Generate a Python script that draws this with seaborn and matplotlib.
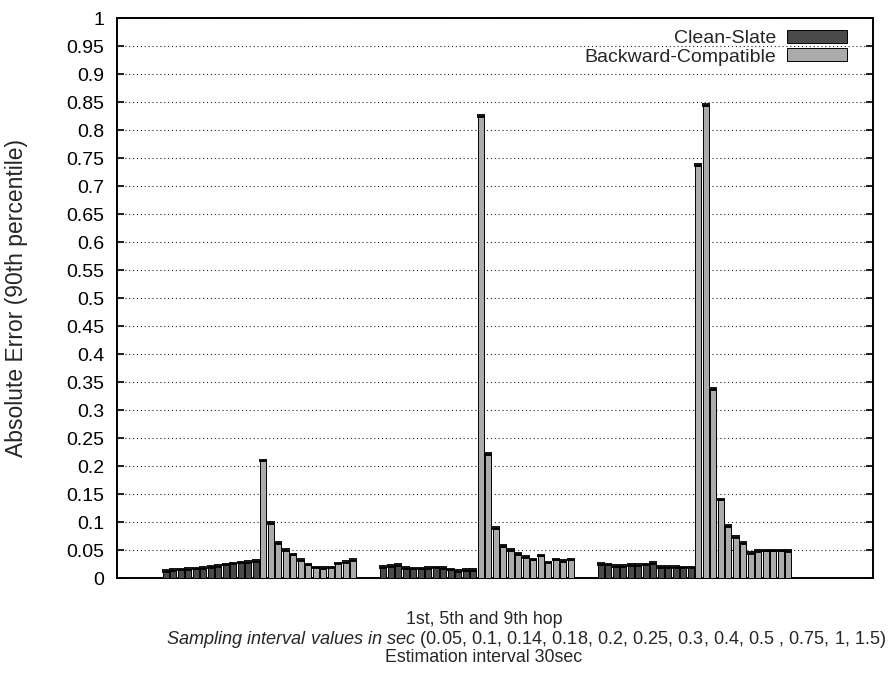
import numpy as np
import pandas as pd
import matplotlib
matplotlib.use("Agg")
import matplotlib.pyplot as plt
import seaborn as sns

# ---- data ----
hops = ["1st hop", "5th hop", "9th hop"]
schemes = ["Clean-Slate", "Backward-Compatible"]

clean_slate_hop1 = [0.013, 0.014, 0.015, 0.016, 0.017, 0.018, 0.020, 0.022, 0.024, 0.026, 0.028, 0.029, 0.030]
backward_hop1 = [0.210, 0.098, 0.063, 0.050, 0.042, 0.032, 0.024, 0.019, 0.018, 0.019, 0.026, 0.029, 0.032]
clean_slate_hop5 = [0.020, 0.021, 0.023, 0.018, 0.017, 0.017, 0.018, 0.019, 0.018, 0.015, 0.013, 0.014, 0.014]
backward_hop5 = [0.825, 0.222, 0.089, 0.057, 0.050, 0.043, 0.038, 0.033, 0.040, 0.028, 0.033, 0.031, 0.033]
clean_slate_hop9 = [0.025, 0.024, 0.022, 0.022, 0.023, 0.023, 0.024, 0.027, 0.020, 0.020, 0.020, 0.019, 0.019]
backward_hop9 = [0.737, 0.845, 0.337, 0.140, 0.093, 0.073, 0.063, 0.045, 0.048, 0.049, 0.049, 0.049, 0.048]

series = {
    ("1st hop", "Clean-Slate"): clean_slate_hop1,
    ("1st hop", "Backward-Compatible"): backward_hop1,
    ("5th hop", "Clean-Slate"): clean_slate_hop5,
    ("5th hop", "Backward-Compatible"): backward_hop5,
    ("9th hop", "Clean-Slate"): clean_slate_hop9,
    ("9th hop", "Backward-Compatible"): backward_hop9,
}

y_ticks = [round(0.05 * k, 2) for k in range(21)]

n_int = 13
group_span = 29  # 26 bars + gap of 3
rows = []
for g, hop in enumerate(hops):
    for s, scheme in enumerate(schemes):
        vals = series[(hop, scheme)]
        for i, v in enumerate(vals):
            rows.append({"pos": g * group_span + s * n_int + i, "value": v,
                         "scheme": scheme, "hop": hop})
df = pd.DataFrame(rows)

# ---- style ----
sns.set_theme(style="white")
plt.rcParams["font.family"] = ["Liberation Sans", "DejaVu Sans"]
plt.rcParams["mathtext.fontset"] = "custom"
plt.rcParams["mathtext.rm"] = "Liberation Sans"
plt.rcParams["mathtext.it"] = "Liberation Sans:italic"

fig = plt.figure(figsize=(8.96, 6.77), dpi=100)
ax = fig.add_axes([0.1306, 0.1462, 0.8437, 0.8272])

palette = {"Clean-Slate": "#4a4a4a", "Backward-Compatible": "#ababab"}
sns.barplot(data=df, x="pos", y="value", hue="scheme", hue_order=schemes,
            native_scale=True, dodge=False, width=0.8, palette=palette,
            edgecolor="black", linewidth=0.7, errorbar=None, ax=ax, zorder=3)

# caps on top of bars (gnuplot errorbar look)
for scheme in schemes:
    sub = df[df["scheme"] == scheme]
    ax.errorbar(sub["pos"], sub["value"], yerr=0.0015, fmt="none",
                ecolor="black", elinewidth=0.9, capsize=2.8, capthick=1.3, zorder=4)

ax.set_xlim(-6.5, 94.3)
ax.set_ylim(0, 1)
ax.set_yticks(y_ticks)
ax.set_yticklabels([f"{t:g}" for t in y_ticks])
ax.set_xticks([])
ax.tick_params(axis="y", direction="in", length=5, width=1.2, labelsize=14,
               left=True, right=True, pad=9, colors="black")
ax.yaxis.grid(True, linestyle=(0, (1, 2.5)), color="#222222", linewidth=0.8)
ax.set_axisbelow(True)
for sp in ax.spines.values():
    sp.set_color("black")
    sp.set_linewidth(1.4)

ax.set_ylabel("Absolute Error (90th percentile)", fontsize=16.5)
ax.yaxis.set_label_coords((28 - 117) / 756, 0.5)
ax.set_xlabel("")

fig.text(484 / 896, 1 - 620 / 677, "1st, 5th and 9th hop",
         ha="center", va="center", fontsize=12.8)
fig.text(526 / 896, 1 - 639 / 677,
         r"$\it{Sampling\ interval\ values\ in\ sec}$ (0.05, 0.1, 0.14, 0.18, 0.2, 0.25, 0.3, 0.4, 0.5 , 0.75, 1, 1.5)",
         ha="center", va="center", fontsize=13.1)
fig.text(484 / 896, 1 - 658 / 677, "Estimation interval 30sec",
         ha="center", va="center", fontsize=12.8)

handles, labels = ax.get_legend_handles_labels()
leg = ax.legend(handles, labels, loc="upper right", frameon=False, markerfirst=False,
                fontsize=14, handlelength=3.1, handleheight=0.62, handletextpad=0.55,
                labelspacing=0.05, borderaxespad=0, borderpad=0,
                bbox_to_anchor=((847 - 117) / 756, 0.978))

fig.savefig("out.png", dpi=100)
